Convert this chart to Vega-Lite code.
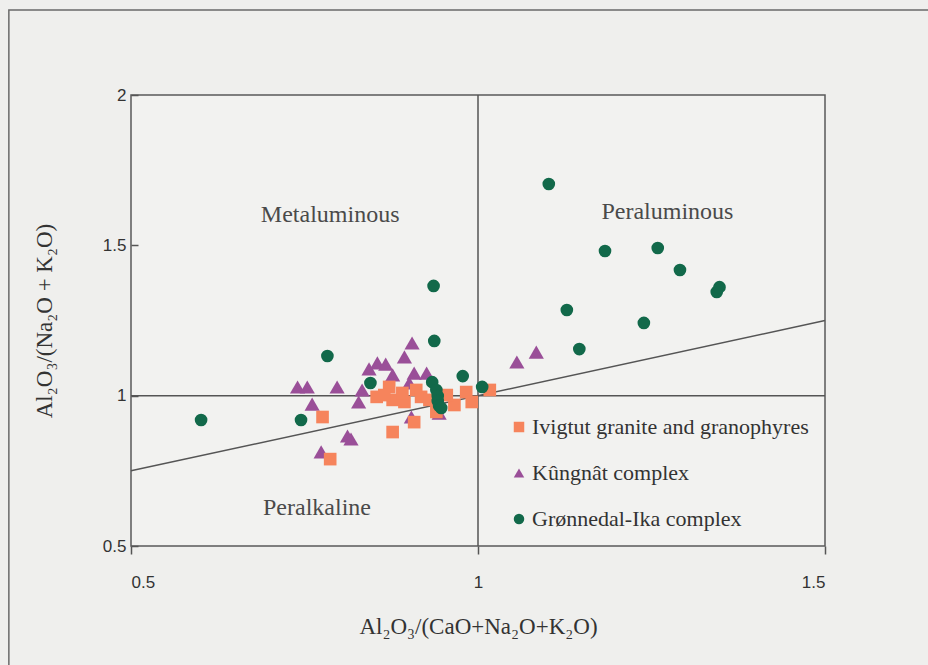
{
  "$schema": "https://vega.github.io/schema/vega-lite/v6.json",
  "width": 694,
  "height": 451,
  "autosize": {"type": "none"},
  "padding": {"left": 131, "top": 95, "right": 103, "bottom": 119},
  "background": "#efefed",
  "config": {
    "view": {"stroke": "#5a5a5a", "strokeWidth": 1.5, "fill": "#f2f2f0"},
    "font": "Liberation Serif, Times New Roman, serif"
  },
  "datasets": {
    "samples": [
      {"suite": "Ivigtut granite and granophyres", "acnk": 0.776, "ank": 0.929},
      {"suite": "Ivigtut granite and granophyres", "acnk": 0.787, "ank": 0.789},
      {"suite": "Ivigtut granite and granophyres", "acnk": 0.877, "ank": 0.879},
      {"suite": "Ivigtut granite and granophyres", "acnk": 0.854, "ank": 0.996},
      {"suite": "Ivigtut granite and granophyres", "acnk": 0.872, "ank": 1.029},
      {"suite": "Ivigtut granite and granophyres", "acnk": 0.877, "ank": 0.986},
      {"suite": "Ivigtut granite and granophyres", "acnk": 0.894, "ank": 0.979},
      {"suite": "Ivigtut granite and granophyres", "acnk": 0.911, "ank": 1.019},
      {"suite": "Ivigtut granite and granophyres", "acnk": 0.918, "ank": 0.996},
      {"suite": "Ivigtut granite and granophyres", "acnk": 0.908, "ank": 0.912},
      {"suite": "Ivigtut granite and granophyres", "acnk": 0.940, "ank": 0.946},
      {"suite": "Ivigtut granite and granophyres", "acnk": 0.966, "ank": 0.969},
      {"suite": "Ivigtut granite and granophyres", "acnk": 0.983, "ank": 1.012},
      {"suite": "Ivigtut granite and granophyres", "acnk": 0.991, "ank": 0.979},
      {"suite": "Ivigtut granite and granophyres", "acnk": 1.017, "ank": 1.019},
      {"suite": "Ivigtut granite and granophyres", "acnk": 0.955, "ank": 1.002},
      {"suite": "Ivigtut granite and granophyres", "acnk": 0.891, "ank": 1.009},
      {"suite": "Ivigtut granite and granophyres", "acnk": 0.865, "ank": 1.002},
      {"suite": "Ivigtut granite and granophyres", "acnk": 0.930, "ank": 0.986},
      {"suite": "Kûngnât complex", "acnk": 0.740, "ank": 1.029},
      {"suite": "Kûngnât complex", "acnk": 0.754, "ank": 1.029},
      {"suite": "Kûngnât complex", "acnk": 0.797, "ank": 1.029},
      {"suite": "Kûngnât complex", "acnk": 0.761, "ank": 0.972},
      {"suite": "Kûngnât complex", "acnk": 0.774, "ank": 0.813},
      {"suite": "Kûngnât complex", "acnk": 0.812, "ank": 0.866},
      {"suite": "Kûngnât complex", "acnk": 0.817, "ank": 0.856},
      {"suite": "Kûngnât complex", "acnk": 0.828, "ank": 0.979},
      {"suite": "Kûngnât complex", "acnk": 0.833, "ank": 1.019},
      {"suite": "Kûngnât complex", "acnk": 0.843, "ank": 1.089},
      {"suite": "Kûngnât complex", "acnk": 0.855, "ank": 1.109},
      {"suite": "Kûngnât complex", "acnk": 0.867, "ank": 1.105},
      {"suite": "Kûngnât complex", "acnk": 0.877, "ank": 1.069},
      {"suite": "Kûngnât complex", "acnk": 0.905, "ank": 1.175},
      {"suite": "Kûngnât complex", "acnk": 0.894, "ank": 1.129},
      {"suite": "Kûngnât complex", "acnk": 0.908, "ank": 1.075},
      {"suite": "Kûngnât complex", "acnk": 0.926, "ank": 1.075},
      {"suite": "Kûngnât complex", "acnk": 0.901, "ank": 1.042},
      {"suite": "Kûngnât complex", "acnk": 0.904, "ank": 0.929},
      {"suite": "Kûngnât complex", "acnk": 0.944, "ank": 0.942},
      {"suite": "Kûngnât complex", "acnk": 1.056, "ank": 1.112},
      {"suite": "Kûngnât complex", "acnk": 1.084, "ank": 1.145},
      {"suite": "Grønnedal-Ika complex", "acnk": 0.601, "ank": 0.919},
      {"suite": "Grønnedal-Ika complex", "acnk": 0.745, "ank": 0.919},
      {"suite": "Grønnedal-Ika complex", "acnk": 0.783, "ank": 1.132},
      {"suite": "Grønnedal-Ika complex", "acnk": 0.845, "ank": 1.042},
      {"suite": "Grønnedal-Ika complex", "acnk": 0.936, "ank": 1.365},
      {"suite": "Grønnedal-Ika complex", "acnk": 0.937, "ank": 1.182},
      {"suite": "Grønnedal-Ika complex", "acnk": 0.934, "ank": 1.045},
      {"suite": "Grønnedal-Ika complex", "acnk": 0.940, "ank": 1.019},
      {"suite": "Grønnedal-Ika complex", "acnk": 0.942, "ank": 0.999},
      {"suite": "Grønnedal-Ika complex", "acnk": 0.942, "ank": 0.982},
      {"suite": "Grønnedal-Ika complex", "acnk": 0.944, "ank": 0.966},
      {"suite": "Grønnedal-Ika complex", "acnk": 0.947, "ank": 0.959},
      {"suite": "Grønnedal-Ika complex", "acnk": 0.978, "ank": 1.065},
      {"suite": "Grønnedal-Ika complex", "acnk": 1.006, "ank": 1.029},
      {"suite": "Grønnedal-Ika complex", "acnk": 1.102, "ank": 1.704},
      {"suite": "Grønnedal-Ika complex", "acnk": 1.183, "ank": 1.481},
      {"suite": "Grønnedal-Ika complex", "acnk": 1.259, "ank": 1.491},
      {"suite": "Grønnedal-Ika complex", "acnk": 1.291, "ank": 1.418},
      {"suite": "Grønnedal-Ika complex", "acnk": 1.344, "ank": 1.345},
      {"suite": "Grønnedal-Ika complex", "acnk": 1.348, "ank": 1.361},
      {"suite": "Grønnedal-Ika complex", "acnk": 1.128, "ank": 1.285},
      {"suite": "Grønnedal-Ika complex", "acnk": 1.239, "ank": 1.242},
      {"suite": "Grønnedal-Ika complex", "acnk": 1.146, "ank": 1.155}
    ],
    "fields": [
      {"name": "Metaluminous", "acnk": 0.787, "ank": 1.601},
      {"name": "Peraluminous", "acnk": 1.273, "ank": 1.611},
      {"name": "Peralkaline", "acnk": 0.768, "ank": 0.626}
    ],
    "dividers": [
      {"x1": 1.0, "y1": 0.5, "x2": 1.0, "y2": 2.0},
      {"x1": 0.5, "y1": 1.0, "x2": 1.5, "y2": 1.0},
      {"x1": 0.5, "y1": 0.75, "x2": 1.5, "y2": 1.25}
    ],
    "sheet": [
      {"x1": 0.324, "y1": 2.283, "x2": 1.75, "y2": 0.05}
    ]
  },
  "layer": [
    {
      "data": {"name": "sheet"},
      "mark": {"type": "rect", "fill": null, "stroke": "#6a6a6a", "strokeWidth": 1.5, "clip": false},
      "encoding": {
        "x": {"field": "x1", "type": "quantitative", "scale": {"domain": [0.5, 1.5], "nice": false, "zero": false}},
        "x2": {"field": "x2"},
        "y": {"field": "y1", "type": "quantitative", "scale": {"domain": [0.5, 2], "nice": false, "zero": false}},
        "y2": {"field": "y2"}
      }
    },
    {
      "data": {"name": "dividers"},
      "mark": {"type": "rule", "color": "#555555", "strokeWidth": 1.5},
      "encoding": {
        "x": {"field": "x1", "type": "quantitative"},
        "x2": {"field": "x2"},
        "y": {"field": "y1", "type": "quantitative"},
        "y2": {"field": "y2"}
      }
    },
    {
      "data": {"name": "fields"},
      "mark": {"type": "text", "font": "Liberation Serif, Times New Roman, serif", "fontSize": 24, "color": "#4a4a4a"},
      "encoding": {
        "x": {"field": "acnk", "type": "quantitative"},
        "y": {"field": "ank", "type": "quantitative"},
        "text": {"field": "name"}
      }
    },
    {
      "data": {"name": "samples"},
      "transform": [{"filter": "datum.suite === 'Kûngnât complex'"}],
      "mark": {"type": "point", "filled": true, "opacity": 1, "size": 230},
      "encoding": {
        "x": {"field": "acnk", "type": "quantitative"},
        "y": {"field": "ank", "type": "quantitative"},
        "color": {"field": "suite", "type": "nominal"},
        "shape": {"field": "suite", "type": "nominal"}
      }
    },
    {
      "data": {"name": "samples"},
      "transform": [{"filter": "datum.suite !== 'Kûngnât complex'"}],
      "mark": {"type": "point", "filled": true, "opacity": 1, "size": 160},
      "encoding": {
        "x": {
          "field": "acnk",
          "type": "quantitative",
          "scale": {"domain": [0.5, 1.5], "nice": false, "zero": false},
          "axis": {
            "values": [0.5, 1, 1.5],
            "format": "~g",
            "title": "Al₂O₃/(CaO+Na₂O+K₂O)",
            "titleFont": "Liberation Serif, Times New Roman, serif",
            "titleFontSize": 23,
            "titleFontWeight": "normal",
            "titleColor": "#333333",
            "titlePadding": 25,
            "labelFont": "Liberation Sans, Arial, sans-serif",
            "labelFontSize": 17,
            "labelColor": "#333333",
            "labelPadding": 20,
            "tickColor": "#555555",
            "tickSize": 8,
            "tickWidth": 1.5,
            "domain": false,
            "grid": false
          }
        },
        "y": {
          "field": "ank",
          "type": "quantitative",
          "scale": {"domain": [0.5, 2], "nice": false, "zero": false},
          "axis": {
            "values": [0.5, 1, 1.5, 2],
            "format": "~g",
            "title": "Al₂O₃/(Na₂O + K₂O)",
            "titleFont": "Liberation Serif, Times New Roman, serif",
            "titleFontSize": 23,
            "titleFontWeight": "normal",
            "titleColor": "#333333",
            "titlePadding": 46,
            "labelFont": "Liberation Sans, Arial, sans-serif",
            "labelFontSize": 17,
            "labelColor": "#333333",
            "labelPadding": 12,
            "tickColor": "#555555",
            "tickSize": -7,
            "tickWidth": 1.5,
            "domain": false,
            "grid": false
          }
        },
        "color": {
          "field": "suite",
          "type": "nominal",
          "scale": {
            "domain": ["Ivigtut granite and granophyres", "Kûngnât complex", "Grønnedal-Ika complex"],
            "range": ["#f6845c", "#9a4f98", "#12694a"]
          },
          "legend": {
            "title": null,
            "orient": "none",
            "legendX": 377,
            "legendY": 321,
            "labelFont": "Liberation Serif, Times New Roman, serif",
            "labelFontSize": 22,
            "labelColor": "#333333",
            "labelLimit": 400,
            "symbolSize": 110,
            "rowPadding": 24,
            "labelOffset": 2
          }
        },
        "shape": {
          "field": "suite",
          "type": "nominal",
          "scale": {
            "domain": ["Ivigtut granite and granophyres", "Kûngnât complex", "Grønnedal-Ika complex"],
            "range": ["square", "triangle-up", "circle"]
          },
          "legend": null
        }
      }
    }
  ]
}
